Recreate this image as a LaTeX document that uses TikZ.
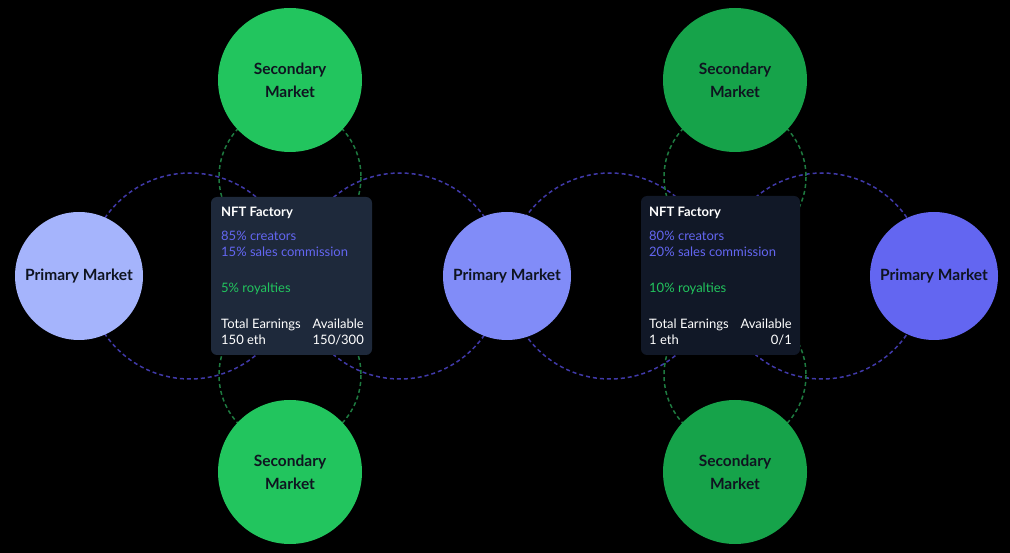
\documentclass[tikz,border=0pt]{standalone}
\usepackage{fontspec}
\setmainfont{Lato}
\definecolor{primA}{HTML}{A5B4FC}
\definecolor{primB}{HTML}{818CF8}
\definecolor{primC}{HTML}{6366F1}
\definecolor{secA}{HTML}{22C55E}
\definecolor{secB}{HTML}{16A34A}
\definecolor{bluedash}{HTML}{4039A8}
\definecolor{greendash}{HTML}{1E7A40}
\definecolor{boxA}{HTML}{1E293B}
\definecolor{boxB}{HTML}{111827}
\definecolor{txtIndigo}{HTML}{6366F1}
\definecolor{txtGreen}{HTML}{22C55E}
\definecolor{circText}{HTML}{0F1420}
\tikzset{
  bdash/.style={draw=bluedash, line width=1.5pt, dash pattern=on 4pt off 3pt},
  gdash/.style={draw=greendash, line width=1.5pt, dash pattern=on 4pt off 3pt},
  prim/.style={circle, minimum size=128pt, inner sep=0pt, text=circText, font=\fontsize{15.5}{18}\selectfont\bfseries},
  secn/.style={circle, minimum size=144pt, inner sep=0pt, text=circText, align=center, font=\fontsize{15.5}{23}\selectfont\bfseries},
  factory/.style={rounded corners=6pt, inner sep=0pt},
  ttl/.style={anchor=base west, inner sep=0pt, text=white, font=\fontsize{13}{14}\selectfont\bfseries},
  tl/.style={anchor=base west, inner sep=0pt, font=\fontsize{13}{14}\selectfont},
  tr/.style={anchor=base east, inner sep=0pt, font=\fontsize{13}{14}\selectfont},
}
\begin{document}
\begin{tikzpicture}[x=1pt,y=-1pt]
\fill[black] (0,0) rectangle (1010,553);
\useasboundingbox (0,0) rectangle (1010,553);
% dashed orbits
\draw[bdash] (190,276) circle[radius=103];
\draw[bdash] (400,276) circle[radius=103];
\draw[bdash] (610,276) circle[radius=103];
\draw[bdash] (822,276) circle[radius=103];
\draw[gdash] (290,177) circle[radius=71];
\draw[gdash] (290,375) circle[radius=71];
\draw[gdash] (735,177) circle[radius=71];
\draw[gdash] (735,375) circle[radius=71];
% markets
\node[prim, fill=primA] (p1) at (79,276) {Primary Market};
\node[prim, fill=primB] (p2) at (507,276) {Primary Market};
\node[prim, fill=primC] (p3) at (934,276) {Primary Market};
\node[secn, fill=secA] (s1t) at (290,80) {Secondary\\Market};
\node[secn, fill=secA] (s1b) at (290,472) {Secondary\\Market};
\node[secn, fill=secB] (s2t) at (735,80) {Secondary\\Market};
\node[secn, fill=secB] (s2b) at (735,472) {Secondary\\Market};
% factory 1
\fill[boxA, factory] (211,197) rectangle (372,355);
\node[ttl] (f1t) at (221,217) {NFT Factory};
\node[tl, text=txtIndigo] (f1a) at (221,241) {85\% creators};
\node[tl, text=txtIndigo] (f1b) at (221,257) {15\% sales commission};
\node[tl, text=txtGreen] (f1c) at (221,293) {5\% royalties};
\node[tl, text=white] (f1d) at (221,329) {Total Earnings};
\node[tl, text=white] (f1e) at (221,345) {150 eth};
\node[tr, text=white] (f1f) at (364,329) {Available};
\node[tr, text=white] (f1g) at (364,345) {150/300};
% factory 2
\fill[boxB, factory] (641,196) rectangle (800,355);
\node[ttl] (f2t) at (649,217) {NFT Factory};
\node[tl, text=txtIndigo] (f2a) at (649,241) {80\% creators};
\node[tl, text=txtIndigo] (f2b) at (649,257) {20\% sales commission};
\node[tl, text=txtGreen] (f2c) at (649,293) {10\% royalties};
\node[tl, text=white] (f2d) at (649,329) {Total Earnings};
\node[tl, text=white] (f2e) at (649,345) {1 eth};
\node[tr, text=white] (f2f) at (792,329) {Available};
\node[tr, text=white] (f2g) at (792,345) {0/1};
\end{tikzpicture}
\end{document}
